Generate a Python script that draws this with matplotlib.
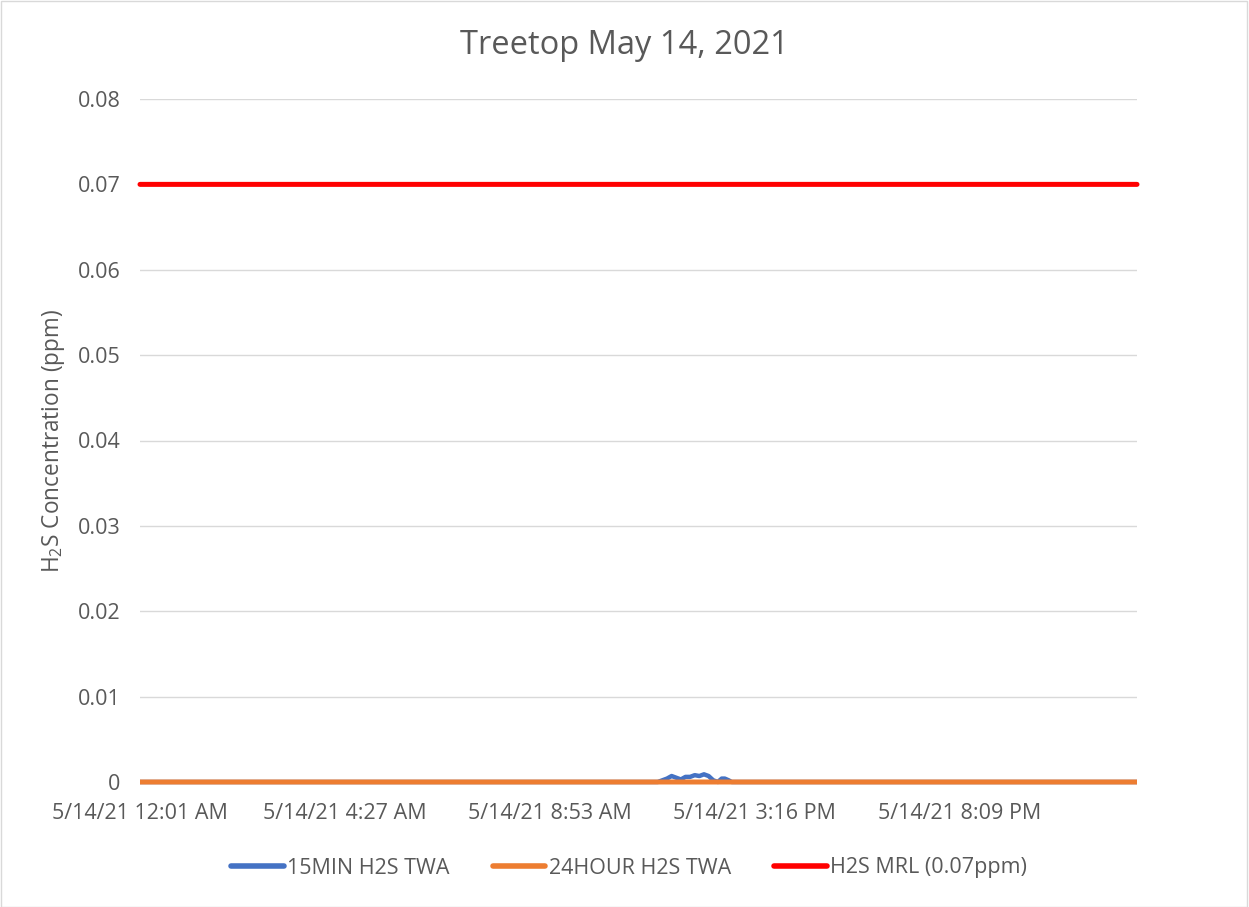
import matplotlib.pyplot as plt
import numpy as np

plt.rcParams['font.family'] = ['Open Sans', 'DejaVu Sans']
plt.rcParams['mathtext.default'] = 'regular'

# category axis (1-minute readings, Excel line chart)
n_points = 1295
label_step = 266
tick_labels = ['5/14/21 12:01 AM', '5/14/21 4:27 AM', '5/14/21 8:53 AM',
               '5/14/21 3:16 PM', '5/14/21 8:09 PM']

# 15 min TWA: zero except a small bump in the early afternoon
bump_idx = [0, 672, 678, 684, 690, 696, 702, 708, 714, 720, 726, 732, 738,
            744, 750, 755, 759, 764, 768, 1294]
bump_vals = [0, 0, 0.0002, 0.0004, 0.0007, 0.0005, 0.0003, 0.0006, 0.0006,
             0.0008, 0.0007, 0.0009, 0.0007, 0.0002, 0.0, 0.0004, 0.0004,
             0.0002, 0, 0]

twa24 = np.zeros(n_points)
mrl = np.full(n_points, 0.07)

gray = '#595959'
fig = plt.figure(figsize=(12.49, 9.07), dpi=100)
ax = fig.add_axes([140 / 1249, 1 - 782 / 907, 997 / 1249, 683 / 907])

x = np.arange(n_points)
ax.plot(bump_idx, bump_vals, color='#4472c4', lw=3.2, solid_joinstyle='round',
        solid_capstyle='butt', label='15MIN H2S TWA', zorder=3, clip_on=False)
ax.plot(x, twa24, color='#ed7d31', lw=3.6, solid_capstyle='butt',
        label='24HOUR H2S TWA', zorder=4, clip_on=False)
ax.plot(x, mrl, color='#ff0000', lw=3.6, solid_capstyle='round',
        label='H2S MRL (0.07ppm)', zorder=4, clip_on=False)

ax.set_xlim(0, n_points - 1)
ax.set_ylim(0, 0.08)
yt = np.arange(0, 0.081, 0.01)
ax.set_yticks(yt)
ax.set_yticklabels(['0'] + ['%.2f' % v for v in yt[1:]])
ax.set_xticks([i * label_step for i in range(len(tick_labels))])
ax.set_xticklabels(tick_labels)
ax.tick_params(length=0, labelsize=15.5, colors=gray)
ax.tick_params(axis='x', pad=15)
ax.tick_params(axis='y', pad=14)
ax.grid(axis='y', color='#d9d9d9', lw=1)
ax.set_axisbelow(True)
for s in ax.spines.values():
    s.set_visible(False)

ax.set_ylabel(r'H$_2$S Concentration (ppm)', fontsize=16.3, color=gray, labelpad=8)
fig.text(624 / 1249, 1 - 45 / 907, 'Treetop May 14, 2021', ha='center', va='center',
         fontsize=23.5, color=gray)

leg = fig.legend(loc='center', bbox_to_anchor=(629 / 1249, 1 - 868 / 907), ncol=3,
                 frameon=False, fontsize=15.5, handlelength=2.45, handletextpad=0.15,
                 columnspacing=2.0)
for t in leg.get_texts():
    t.set_color(gray)
for h in leg.get_lines():
    h.set_linewidth(4)
    h.set_solid_capstyle('round')

# light border round the chart area
fig.patches.append(plt.Rectangle((0.0005, 0.0005), 0.998, 0.998, transform=fig.transFigure,
                                 fill=False, edgecolor='#d9d9d9', lw=1))

fig.savefig('out.png', dpi=100)
